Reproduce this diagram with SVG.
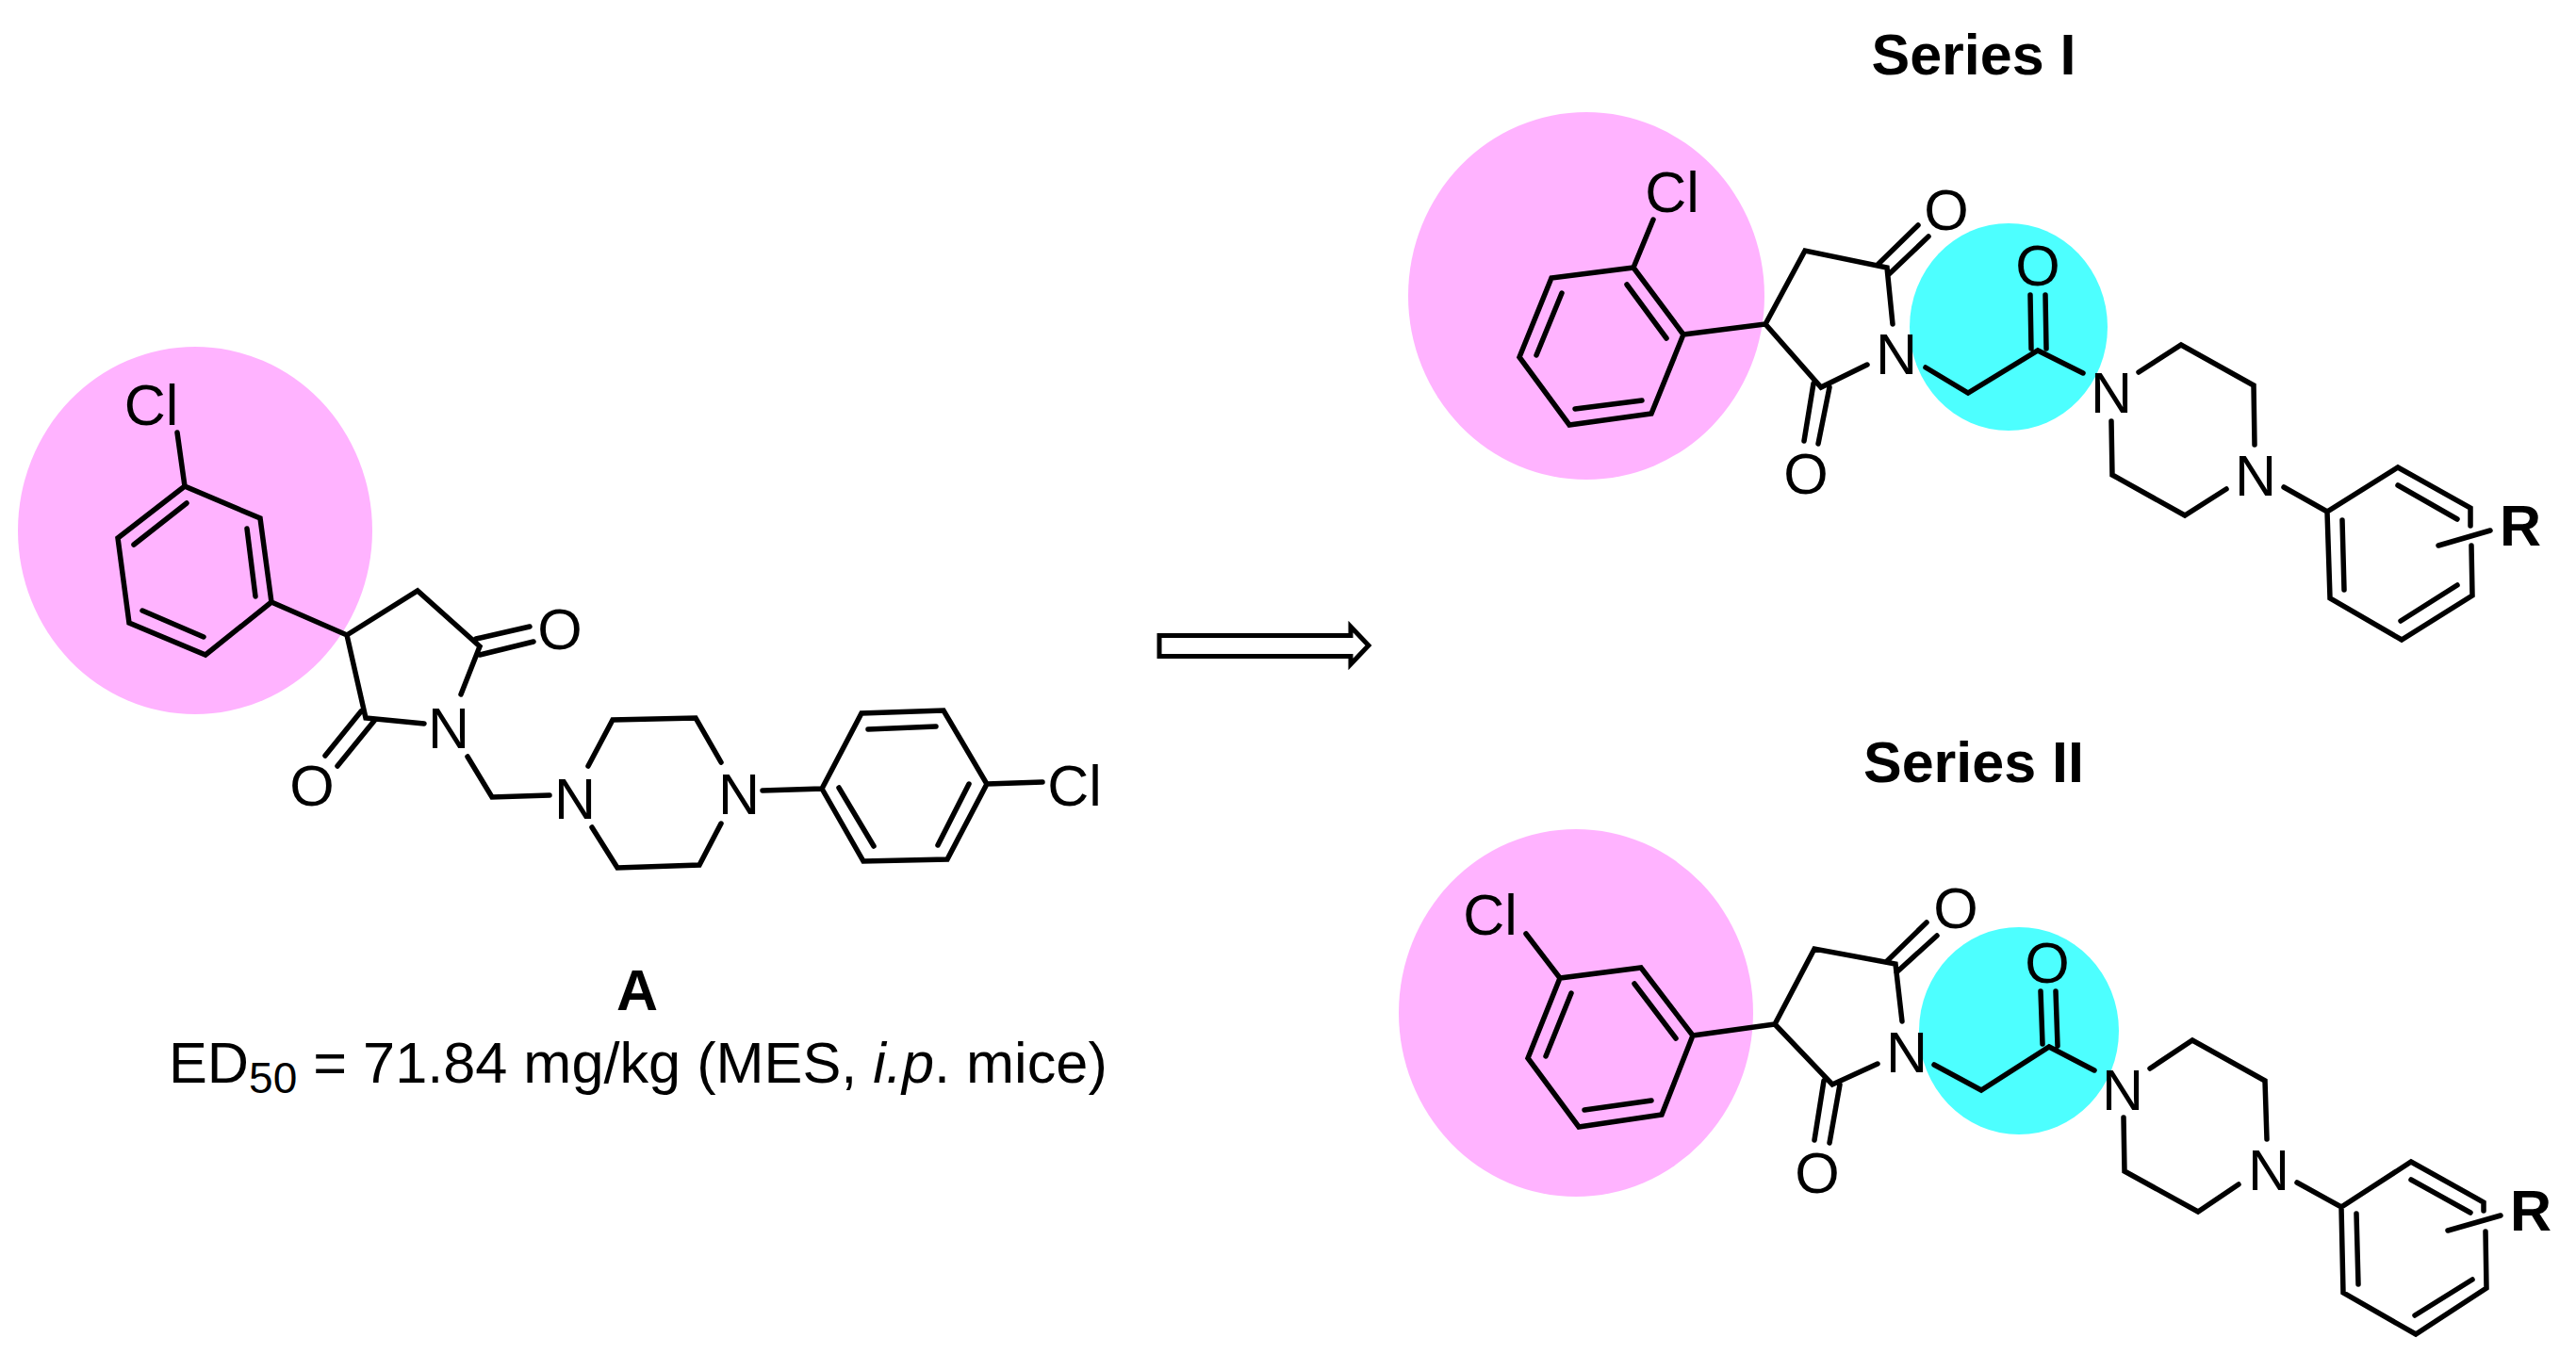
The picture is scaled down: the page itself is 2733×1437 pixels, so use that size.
<svg xmlns="http://www.w3.org/2000/svg" width="2733" height="1437" viewBox="0 0 2733 1437">
<style>
.b{fill:none;stroke:#000;stroke-width:5.5;stroke-linejoin:miter;stroke-linecap:round}
text{font-family:"Liberation Sans",Arial,sans-serif;font-size:61px;fill:#000;text-anchor:middle}
.h{font-weight:bold}
.p{fill:#FFB3FF}
.c{fill:#4DFFFF}
</style>
<rect width="2733" height="1437" fill="#fff"/>
<g id="highlights">
<ellipse class="p" cx="207" cy="563" rx="188" ry="195"/>
<ellipse class="p" cx="1683" cy="314" rx="189" ry="195"/>
<ellipse class="c" cx="2131" cy="347" rx="105" ry="110"/>
<ellipse class="p" cx="1672" cy="1075" rx="188" ry="195"/>
<ellipse class="c" cx="2142" cy="1094" rx="106" ry="110"/>
</g>
<g id="connectors">
<polygon id="arrow" points="1230,674.5 1433,674.5 1433,665 1452,685 1433,705 1433,696.5 1230,696.5" fill="#fff" stroke="#000" stroke-width="5"/>
</g>
<g id="compound-A">
<path class="b" d="M188 459L196 516L276 550L288 639L218 695L137 661L125 571L196 516M262 561L271 633M216 676L151 648M142 578L198 534M288 639L368 674L443 627L509 686L489 737M368 674L388 762L450 768M505 678L562 665M509 695L566 681M383 755L345 802M397 765L358 813M496 803L522 846L583 844M624 813L650 764L738 762L765 809M628 878L655 921L742 918L765 874M809 839L872 837L914 757L1001 754L1047 832L1005 912L916 914L872 837M921 774L993 771M1028 832L995 897M890 836L927 898M1047 832L1106 830"/>
<text x="160.5" y="451">Cl</text>
<text x="594" y="689">O</text>
<text x="476" y="794">N</text>
<text x="331" y="855">O</text>
<text x="610" y="869">N</text>
<text x="784" y="864">N</text>
<text x="1140" y="855">Cl</text>
<text x="676" y="1072" class="h">A</text>
<text x="179" y="1149" style="text-anchor:start;font-size:61.25px">ED<tspan font-size="46" dy="11">50</tspan><tspan dy="-11"> = 71.84 mg/kg (MES, </tspan><tspan font-style="italic">i.p</tspan>. mice)</text>
</g>
<g id="series-I">
<text x="2094" y="79" class="h">Series I</text>
<path class="b" d="M1754 233L1733 284L1786 355L1752 439L1665 451L1612 379L1646 295L1733 284M1726 302L1768 359M1742 425L1671 434M1630 377L1657 311M1786 355L1873 344L1915 266L2002 284L2008 344M1873 344L1932 411L1981 387M1993 280L2035 239M2003 292L2046 251M1924 407L1914 468M1941 411L1929 471M2043 390L2088 417L2162 372L2210 396M2154 313L2155 370M2170 313L2171 370M2269 395L2314 366L2391 409L2392 472M2362 519L2318 547L2241 504L2240 447M2423 517L2469 543L2544 496L2621 539L2621 558M2622 579L2623 632L2548 679L2472 635L2469 543M2544 515L2607 551M2607 621L2547 659M2485 552L2487 626M2587 579L2642 563"/>
<text x="1774" y="225">Cl</text>
<text x="2065" y="244">O</text>
<text x="2012" y="397">N</text>
<text x="1916" y="524">O</text>
<text x="2162" y="303">O</text>
<text x="2240" y="438">N</text>
<text x="2393" y="526">N</text>
<text x="2674" y="579" class="h">R</text>
</g>
<g id="series-II">
<text x="2094" y="830" class="h">Series II</text>
<path class="b" d="M1619 991L1655 1038L1741 1027L1796 1099L1763 1183L1675 1196L1621 1123L1655 1038M1734 1044L1778 1102M1752 1168L1681 1178M1640 1121L1667 1054M1796 1099L1883 1087L1925 1007L2011 1023L2018 1084M1883 1087L1944 1151L1992 1129M2002 1020L2044 979M2012 1032L2055 993M1935 1147L1925 1210M1952 1151L1941 1213M2052 1130L2102 1157L2174 1111L2222 1136M2165 1052L2167 1108M2181 1052L2183 1110M2281 1134L2326 1104L2403 1147L2405 1209M2375 1257L2332 1286L2254 1243L2253 1186M2437 1255L2484 1281L2558 1233L2635 1276L2635 1285M2637 1307L2638 1367L2563 1416L2486 1372L2484 1281M2558 1252L2621 1287M2623 1358L2562 1396M2500 1288L2502 1363M2597 1306L2653 1290"/>
<text x="1581" y="992">Cl</text>
<text x="2075" y="985">O</text>
<text x="2023" y="1138">N</text>
<text x="1928" y="1266">O</text>
<text x="2172" y="1043">O</text>
<text x="2252" y="1178">N</text>
<text x="2407" y="1263">N</text>
<text x="2685" y="1306" class="h">R</text>
</g>
</svg>
